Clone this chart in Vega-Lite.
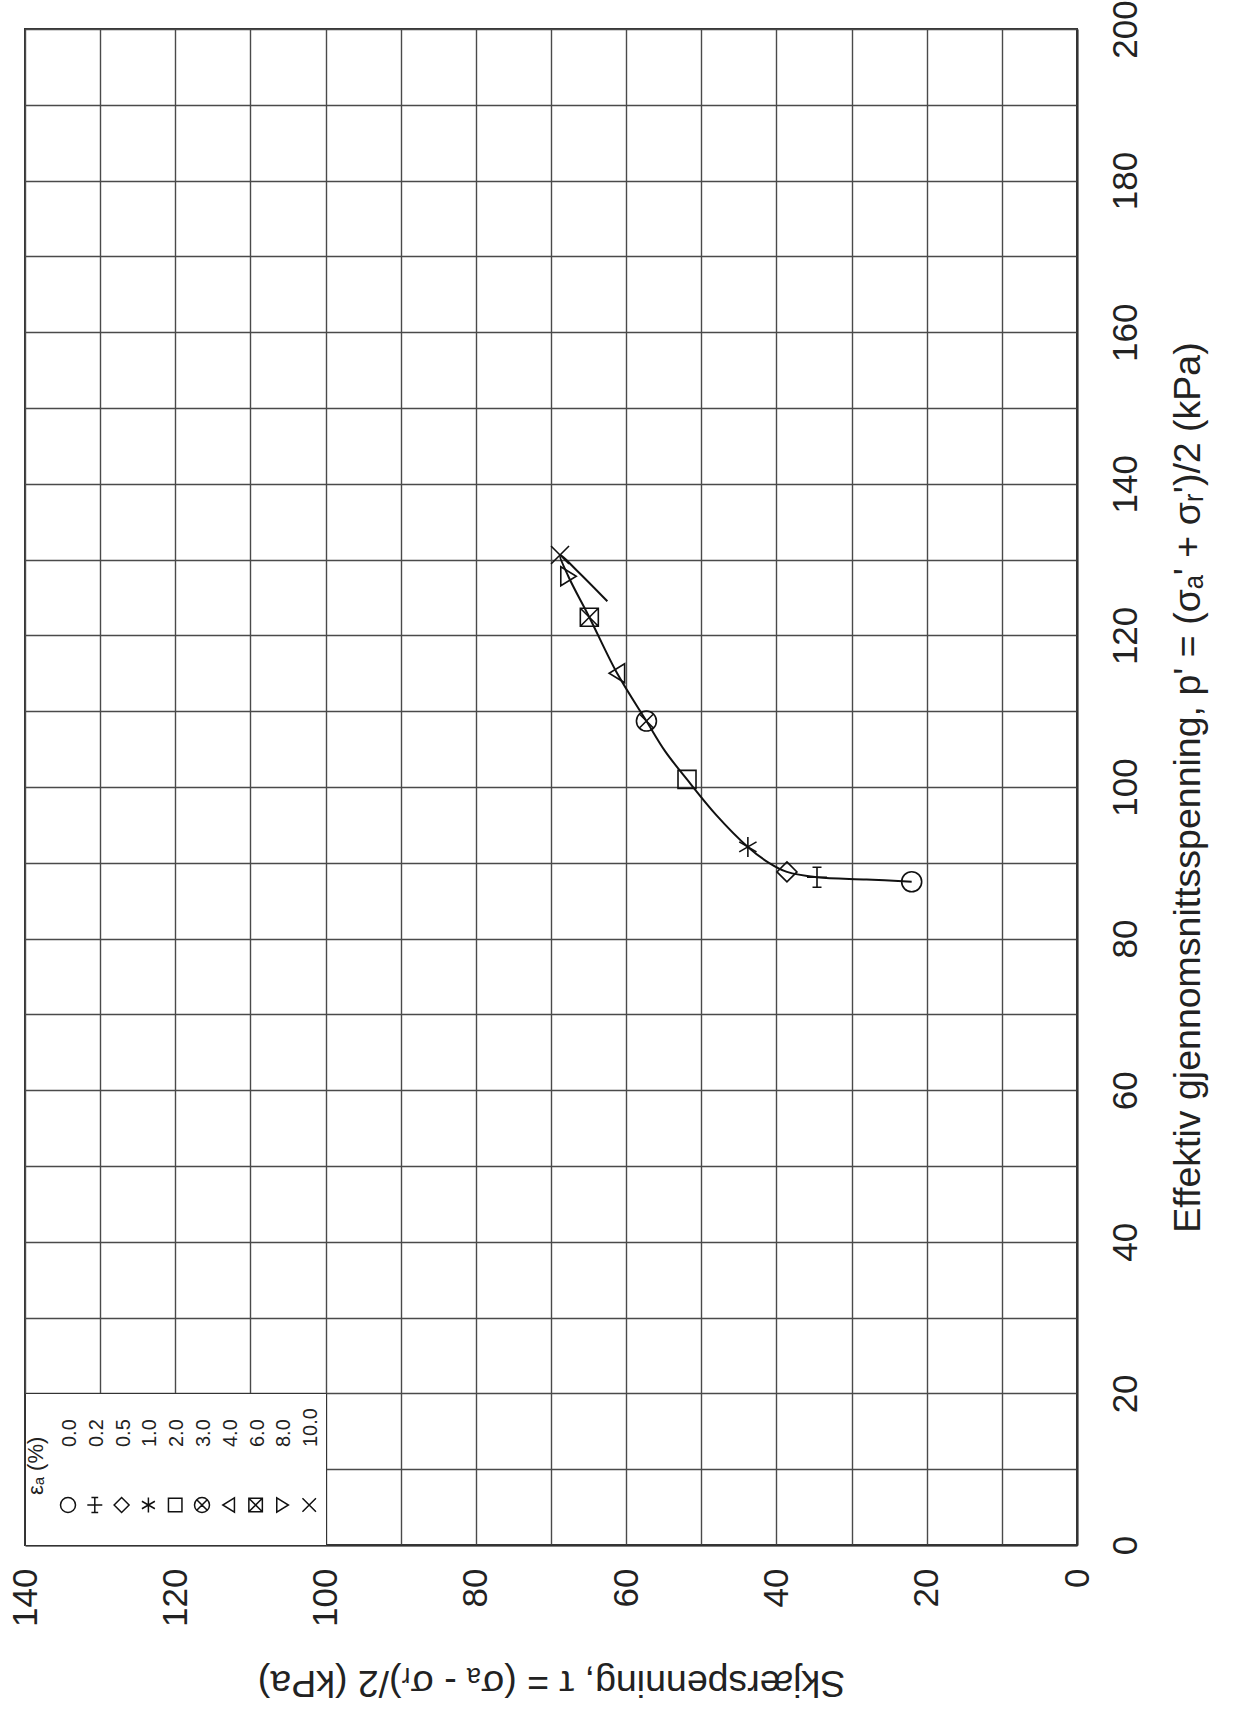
{
  "$schema": "https://vega.github.io/schema/vega-lite/v6.json",
  "width": 1052,
  "height": 1516,
  "autosize": {"type": "none"},
  "padding": {"left": 25, "top": 29, "right": 166, "bottom": 183},
  "background": "white",
  "title": {
    "text": "εₐ (%)", "orient": "left", "anchor": "start", "frame": "group",
    "offset": -40, "dx": 50, "zindex": 5,
    "font": "Liberation Sans", "fontSize": 22, "fontWeight": "normal", "color": "#222"
  },
  "config": {
    "view": {"stroke": "#333", "strokeWidth": 2},
    "font": "Liberation Sans",
    "style": {
      "guide-label": {"angle": -90, "dx": 22}
    },
    "axis": {
      "grid": true, "gridColor": "#4a4a4a", "gridWidth": 1.4, "gridOpacity": 1,
      "ticks": false, "tickSize": 0,
      "domain": true, "domainColor": "#333", "domainWidth": 2,
      "labelFont": "Liberation Sans", "labelFontSize": 35, "labelColor": "#222",
      "titleFont": "Liberation Sans", "titleFontSize": 37.5, "titleFontWeight": "normal", "titleColor": "#222",
      "labelFlush": false, "labelOverlap": false
    }
  },
  "datasets": {
    "curve": [
      {"i": 1, "tau": 22.0, "p": 87.5},
      {"i": 2, "tau": 28.0, "p": 87.8},
      {"i": 3, "tau": 34.6, "p": 88.1},
      {"i": 4, "tau": 38.6, "p": 88.8},
      {"i": 5, "tau": 41.0, "p": 90.0},
      {"i": 6, "tau": 43.8, "p": 92.1},
      {"i": 7, "tau": 48.0, "p": 96.3},
      {"i": 8, "tau": 51.9, "p": 101.0},
      {"i": 9, "tau": 54.8, "p": 104.7},
      {"i": 10, "tau": 57.3, "p": 108.7},
      {"i": 11, "tau": 61.2, "p": 115.0},
      {"i": 12, "tau": 64.9, "p": 122.4},
      {"i": 13, "tau": 67.7, "p": 127.8},
      {"i": 14, "tau": 68.8, "p": 130.6},
      {"i": 15, "tau": 66.5, "p": 128.5},
      {"i": 16, "tau": 62.5, "p": 124.5}
    ],
    "pts": [
      {"eps": "0.0", "tau": 22.0, "p": 87.5},
      {"eps": "0.2", "tau": 34.6, "p": 88.1},
      {"eps": "0.5", "tau": 38.6, "p": 88.8},
      {"eps": "1.0", "tau": 43.8, "p": 92.1},
      {"eps": "2.0", "tau": 51.9, "p": 101.0},
      {"eps": "3.0", "tau": 57.3, "p": 108.7},
      {"eps": "4.0", "tau": 61.2, "p": 115.0},
      {"eps": "6.0", "tau": 64.9, "p": 122.4},
      {"eps": "8.0", "tau": 67.7, "p": 127.8},
      {"eps": "10.0", "tau": 68.8, "p": 130.6}
    ]
  },
  "encoding": {
    "x": {
      "field": "tau", "type": "quantitative",
      "scale": {"domain": [0, 140], "reverse": true, "nice": false, "zero": false},
      "axis": {
        "orient": "bottom",
        "values": [0, 10, 20, 30, 40, 50, 60, 70, 80, 90, 100, 110, 120, 130, 140],
        "labelExpr": "datum.value % 20 === 0 ? datum.label : ''",
        "labelAngle": -90, "labelAlign": "right", "labelBaseline": "middle", "labelPadding": 45,
        "title": "Skjærspenning, τ = (σₐ - σᵣ)/2  (kPa)",
        "titleAngle": 180, "titleBaseline": "bottom", "titlePadding": 36
      }
    },
    "y": {
      "field": "p", "type": "quantitative",
      "scale": {"domain": [0, 200], "nice": false, "zero": false},
      "axis": {
        "orient": "right",
        "values": [0, 10, 20, 30, 40, 50, 60, 70, 80, 90, 100, 110, 120, 130, 140, 150, 160, 170, 180, 190, 200],
        "labelExpr": "datum.value % 20 === 0 ? datum.label : ''",
        "labelAngle": -90, "labelAlign": "center", "labelBaseline": "top", "labelPadding": 31, "labelOffset": 22,
        "title": "Effektiv gjennomsnittsspenning,  p' = (σₐ' + σᵣ')/2 (kPa)",
        "titleAngle": -90, "titleBaseline": "top", "titlePadding": 26
      }
    }
  },
  "layer": [
    {
      "data": {"name": "curve"},
      "mark": {"type": "line", "interpolate": "catmull-rom", "color": "#111", "strokeWidth": 2},
      "encoding": {"order": {"field": "i", "type": "quantitative"}}
    },
    {
      "data": {"name": "pts"},
      "mark": {"type": "point", "filled": false, "size": 400, "yOffset": -48, "strokeWidth": 1.6, "color": "#111", "opacity": 1},
      "encoding": {
        "shape": {
          "field": "eps", "type": "nominal",
          "scale": {
            "domain": ["0.0", "0.2", "0.5", "1.0", "2.0", "3.0", "4.0", "6.0", "8.0", "10.0"],
            "range": [
              "M -1 4.8 A 1 1 0 1 1 1 4.8 A 1 1 0 1 1 -1 4.8 Z",
              "M -1 4.8 L 1 4.8 M 0 3.8 L 0 5.8 M -0.45 3.8 L 0.45 3.8 M -0.45 5.8 L 0.45 5.8",
              "M 0 3.8 L 1 4.8 L 0 5.8 L -1 4.8 Z",
              "M 0 3.8 L 0 5.8 M -0.866 4.3 L 0.866 5.3 M -0.866 5.3 L 0.866 4.3",
              "M -0.9 3.9 L 0.9 3.9 L 0.9 5.7 L -0.9 5.7 Z",
              "M -1 4.8 A 1 1 0 1 1 1 4.8 A 1 1 0 1 1 -1 4.8 Z M -0.7 4.1 L 0.7 5.5 M -0.7 5.5 L 0.7 4.1",
              "M 0.75 3.85 L -0.8 4.8 L 0.75 5.75 Z",
              "M -0.9 3.9 L 0.9 3.9 L 0.9 5.7 L -0.9 5.7 Z M -0.9 3.9 L 0.9 5.7 M -0.9 5.7 L 0.9 3.9",
              "M -0.75 3.85 L 0.8 4.8 L -0.75 5.75 Z",
              "M -0.9 3.9 L 0.9 5.7 M -0.9 5.7 L 0.9 3.9"
            ]
          },
          "legend": {
            "orient": "bottom-left", "offset": 0,
            "direction": "horizontal", "columns": 10,
            "title": "\u00a0\u00a0\u00a0\u00a0", "titleOrient": "left", "titleFontSize": 20, "titlePadding": 29,
            "labelFontSize": 20, "labelColor": "#222", "labelOffset": -8, "labelAlign": "left", "labelBaseline": "middle",
            "symbolSize": 225, "symbolStrokeWidth": 1.5, "symbolStrokeColor": "#111", "symbolFillColor": "transparent",
            "clipHeight": 144,
            "columnPadding": 4.8, "padding": 4,
            "strokeColor": "#333", "fillColor": "white"
          }
        }
      }
    }
  ]
}
